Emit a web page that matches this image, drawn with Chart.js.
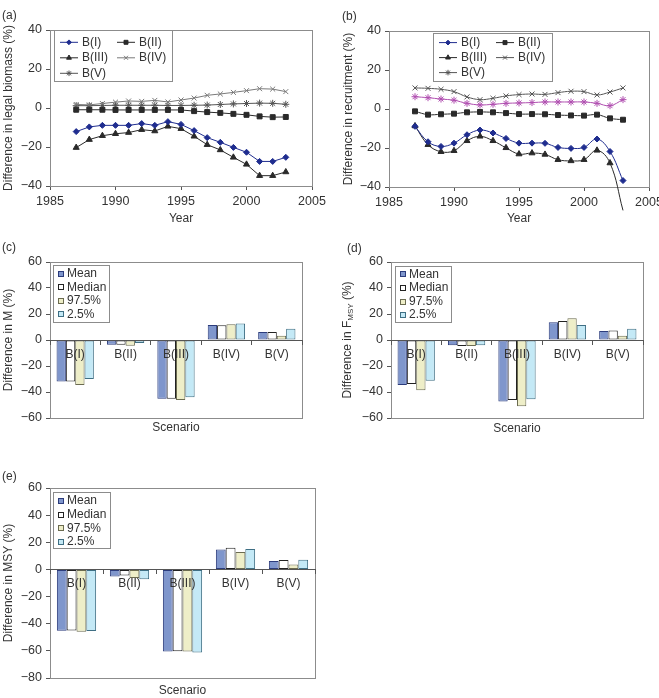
<!DOCTYPE html>
<html>
<head>
<meta charset="utf-8">
<script src="https://cdn.jsdelivr.net/npm/chart.js@4.4.1/dist/chart.umd.min.js"></script>
<style>
html, body { margin: 0; padding: 0; background: #fff; }
#fig { position: relative; width: 659px; height: 698px; overflow: hidden; font-family: "Liberation Sans", Arial, sans-serif; color: #333; }
#fig canvas { position: absolute; }
.tag { position: absolute; font-size: 12px; line-height: 12px; }
</style>
</head>
<body>
<div id="fig">
  <canvas id="chartA" width="330" height="230" style="left:0;top:0"></canvas>
  <canvas id="chartB" width="319" height="230" style="left:340px;top:0"></canvas>
  <canvas id="chartC" width="330" height="230" style="left:0;top:230px"></canvas>
  <canvas id="chartD" width="319" height="230" style="left:340px;top:230px"></canvas>
  <canvas id="chartE" width="330" height="238" style="left:0;top:460px"></canvas>
  <div class="tag" style="left:2px;top:9px">(a)</div>
  <div class="tag" style="left:342px;top:10px">(b)</div>
  <div class="tag" style="left:2px;top:241px">(c)</div>
  <div class="tag" style="left:347px;top:242px">(d)</div>
  <div class="tag" style="left:2px;top:470px">(e)</div>
</div>
<script>
// years for panels (a) and (b)
const years = [1987, 1988, 1989, 1990, 1991, 1992, 1993, 1994, 1995, 1996, 1997, 1998, 1999, 2000, 2001, 2002, 2003];

// (a) difference in legal biomass (%)
const biomassI   = [-12.1, -9.7, -8.9, -8.9, -8.9, -8.0, -8.9, -7.0, -8.4, -11.6, -15.2, -17.6, -20.2, -22.7, -27.4, -27.4, -25.3];
const biomassII  = [-0.9, -0.9, -0.9, -1.0, -1.0, -1.0, -1.0, -1.0, -1.0, -1.6, -2.1, -2.5, -3.0, -3.5, -4.3, -4.7, -4.6];
const biomassIII = [-20.3, -16.2, -14.2, -13.2, -12.6, -11.1, -11.8, -9.4, -10.6, -14.5, -18.8, -21.5, -25.3, -28.9, -34.7, -34.7, -32.8];
const biomassIV  = [1.8, 1.6, 2.3, 3.0, 3.6, 3.4, 3.9, 3.1, 4.1, 5.1, 6.5, 7.2, 8.0, 8.9, 9.9, 9.7, 8.4];
const biomassV   = [1.2, 1.2, 1.3, 1.4, 1.4, 1.4, 1.4, 1.3, 1.3, 1.4, 1.5, 1.8, 2.1, 2.3, 2.5, 2.4, 1.9];

// (b) difference in recruitment (%)
const recruitI   = [-8.9, -16.8, -19.2, -17.5, -13.2, -10.8, -12.3, -15.1, -17.5, -17.5, -17.6, -19.7, -20.2, -19.7, -15.4, -21.8, -36.7];
const recruitII  = [-1.2, -2.9, -2.7, -2.4, -1.7, -1.5, -1.7, -2.1, -2.6, -2.6, -2.7, -3.1, -3.3, -3.4, -2.9, -4.8, -5.5];
const recruitIII = [-8.7, -18.3, -21.9, -21.4, -16.3, -14.0, -16.3, -19.9, -23.1, -22.6, -23.3, -26.0, -26.6, -26.0, -21.2, -27.7, -52.0];
const recruitIV  = [10.8, 10.6, 10.1, 8.9, 6.2, 4.8, 5.5, 6.7, 7.4, 7.7, 7.5, 8.4, 9.1, 8.9, 7.2, 8.7, 10.8];
const recruitV   = [6.3, 5.8, 5.1, 4.5, 2.9, 2.1, 2.4, 2.9, 3.1, 3.3, 3.6, 3.6, 3.6, 3.6, 2.9, 1.7, 4.8];

// (c)-(e) bar panels
const scenarios = ['B(I)', 'B(II)', 'B(III)', 'B(IV)', 'B(V)'];
const statNames = ['Mean', 'Median', '97.5%', '2.5%'];

const mMean   = [-32.0, -3.6, -45.1, 11.5, 6.2];
const mMedian = [-32.0, -3.6, -45.1, 11.3, 6.2];
const m975    = [-34.6, -4.4, -46.2, 12.1, 3.3];
const m25     = [-30.0, -2.3, -44.1, 12.6, 8.7];

const fMean   = [-34.6, -4.1, -47.4, 13.6, 6.9];
const fMedian = [-33.8, -4.6, -46.2, 14.6, 7.4];
const f975    = [-38.7, -4.6, -51.0, 16.7, 3.3];
const f25     = [-31.3, -4.1, -45.6, 11.5, 8.7];

const msyMean   = [-45.2, -5.2, -60.5, 14.6, 6.2];
const msyMedian = [-45.0, -4.5, -60.3, 15.9, 6.9];
const msy975    = [-46.0, -6.4, -60.5, 12.9, 3.7];
const msy25     = [-45.4, -7.2, -61.3, 15.1, 7.2];

const FONT = '"Liberation Sans", Arial, sans-serif';
Chart.defaults.font.family = FONT;
Chart.defaults.font.size = 12;
Chart.defaults.color = '#333';

const barFill = ['#7f96cc', '#ffffff', '#eeeec8', '#c4e9f6'];
const barEdge = ['#2c3c7c', '#222222', '#6b6b50', '#3f6f84'];

const fmtTick = v => (v < 0 ? '\u2212' + Math.abs(v) : String(v));
const pts = vals => years.map((y, i) => ({ x: y, y: vals[i] }));

// grey box round the plot area
const frame = {
  id: 'frame',
  beforeDatasetsDraw(chart) {
    const a = chart.chartArea, ctx = chart.ctx;
    ctx.save();
    ctx.strokeStyle = '#8c8c8c';
    ctx.lineWidth = 1;
    ctx.strokeRect(Math.round(a.left) + 0.5, Math.round(a.top) + 0.5, Math.round(a.right - a.left), Math.round(a.bottom - a.top));
    ctx.restore();
  }
};

// boxed legend drawn inside the plot
function boxLegend(cfg) {
  return {
    id: 'boxLegend',
    afterDraw(chart) {
      const ctx = chart.ctx, a = chart.chartArea;
      const x0 = Math.round(a.left + cfg.dx), y0 = Math.round(a.top + cfg.dy);
      ctx.save();
      ctx.fillStyle = '#fff';
      ctx.fillRect(x0, y0, cfg.w, cfg.h);
      ctx.strokeStyle = '#8c8c8c';
      ctx.lineWidth = 1;
      ctx.strokeRect(x0 + 0.5, y0 + 0.5, cfg.w, cfg.h);
      ctx.textBaseline = 'middle';
      ctx.textAlign = 'left';
      chart.data.datasets.forEach((ds, i) => {
        const col = cfg.cols ? i % cfg.cols : 0;
        const row = cfg.cols ? Math.floor(i / cfg.cols) : i;
        const cx = x0 + col * (cfg.colW || 0);
        const cy = y0 + cfg.first + row * cfg.rowH;
        if (cfg.kind === 'line') {
          const c = ds.legendColor || ds.borderColor;
          const r = Array.isArray(ds.pointRadius) ? ds.pointRadius[0] : ds.pointRadius;
          ctx.strokeStyle = c;
          ctx.fillStyle = c;
          ctx.lineWidth = 1;
          ctx.beginPath();
          ctx.moveTo(cx + 6, cy);
          ctx.lineTo(cx + 24, cy);
          ctx.stroke();
          Chart.helpers.drawPoint(ctx, { pointStyle: ds.pointStyle, radius: r * 0.8, borderWidth: 1, rotation: 0 }, cx + 15, cy);
          ctx.fillStyle = '#333';
          ctx.font = '12px ' + FONT;
          ctx.fillText(ds.label, cx + 28, cy);
        } else {
          ctx.fillStyle = ds.backgroundColor;
          ctx.fillRect(cx + 5, Math.round(cy) - 3, 6, 6);
          ctx.strokeStyle = ds.borderColor;
          ctx.strokeRect(cx + 5.5, Math.round(cy) - 2.5, 5, 5);
          ctx.fillStyle = '#333';
          ctx.font = '12px ' + FONT;
          ctx.fillText(ds.label, cx + 14, cy);
        }
      });
      ctx.restore();
    }
  };
}

// y title with MSY subscript for panel (d)
const fmsyTitle = {
  id: 'fmsyTitle',
  afterDraw(chart) {
    const ctx = chart.ctx, a = chart.chartArea;
    const big = '12px ' + FONT, small = '8px ' + FONT;
    const parts = [['Difference in F', big, 0], ['MSY', small, 3], [' (%)', big, 0]];
    ctx.save();
    let total = 0;
    parts.forEach(p => { ctx.font = p[1]; p.push(ctx.measureText(p[0]).width); total += p[3]; });
    ctx.translate(7.5, (a.top + a.bottom) / 2);
    ctx.rotate(-Math.PI / 2);
    ctx.fillStyle = '#333';
    ctx.textBaseline = 'middle';
    ctx.textAlign = 'left';
    let x = -total / 2;
    parts.forEach(p => { ctx.font = p[1]; ctx.fillText(p[0], x, p[2]); x += p[3]; });
    ctx.restore();
  }
};

function lineSet(label, vals, color, style, r, extra) {
  return Object.assign({
    label: label,
    data: pts(vals),
    borderColor: color,
    backgroundColor: color,
    pointBackgroundColor: color,
    pointBorderColor: color,
    pointStyle: style,
    pointRadius: r,
    pointBorderWidth: 1,
    borderWidth: 1,
    tension: 0
  }, extra || {});
}

function lineChart(id, sets, cfg) {
  return new Chart(document.getElementById(id), {
    type: 'line',
    data: { datasets: sets },
    options: {
      responsive: false,
      animation: false,
      layout: { padding: { top: cfg.top, right: cfg.right, left: 0, bottom: 0 } },
      plugins: { legend: { display: false }, tooltip: { enabled: false } },
      scales: {
        x: {
          type: 'linear', min: 1985, max: 2005,
          ticks: { stepSize: 5, padding: 4, font: { size: 12.5 }, callback: v => String(v) },
          grid: { drawOnChartArea: false, tickLength: 4, color: '#555' },
          border: { color: '#555' },
          title: { display: true, text: 'Year', padding: { top: 0, bottom: 4 } },
          afterFit: s => { s.height = cfg.xH; s.paddingLeft = 0; s.paddingRight = 0; }
        },
        y: {
          min: -40, max: 40,
          ticks: { stepSize: 20, padding: 4, font: { size: 12.5 }, callback: fmtTick },
          grid: { drawOnChartArea: false, tickLength: 4, color: '#555' },
          border: { color: '#555' },
          title: { display: true, text: cfg.yTitle, padding: { top: 1, bottom: 0 } },
          afterFit: s => { s.width = cfg.yW; }
        }
      }
    },
    plugins: [frame, boxLegend(cfg.legend)]
  });
}

function barChart(id, series, cfg) {
  const sets = statNames.map((name, i) => ({
    label: name,
    data: series[i],
    backgroundColor: barFill[i],
    borderColor: barEdge[i],
    borderWidth: 1,
    borderSkipped: false,
    categoryPercentage: 0.74,
    barPercentage: 1
  }));
  const extra = [frame, boxLegend(cfg.legend)];
  if (cfg.customTitle) extra.push(cfg.customTitle);
  return new Chart(document.getElementById(id), {
    type: 'bar',
    data: { labels: scenarios, datasets: sets },
    options: {
      responsive: false,
      animation: false,
      layout: { padding: { top: cfg.top, right: cfg.right, left: 0, bottom: 0 } },
      plugins: { legend: { display: false }, tooltip: { enabled: false } },
      scales: {
        x: {
          position: { y: 0 },
          ticks: { padding: 3, font: { size: 12 }, z: 1 },
          grid: { drawOnChartArea: false, offset: true, tickLength: 4, color: '#555', z: 1 },
          border: { color: '#555', z: 1 }
        },
        x2: {
          type: 'category', position: 'bottom',
          ticks: { display: false },
          grid: { display: false },
          border: { display: false },
          title: { display: true, text: 'Scenario', padding: { top: 0, bottom: cfg.titlePad } },
          afterFit: s => { s.height = cfg.xH; s.paddingLeft = 0; s.paddingRight = 0; }
        },
        y: {
          min: cfg.yMin, max: cfg.yMax,
          ticks: { stepSize: 20, padding: 4, font: { size: 12.5 }, callback: fmtTick },
          grid: { drawOnChartArea: false, tickLength: 4, color: '#555' },
          border: { color: '#555' },
          title: { display: !cfg.customTitle, text: cfg.yTitle || '', padding: { top: 1, bottom: 0 } },
          afterFit: s => { s.width = cfg.yW; }
        }
      }
    },
    plugins: extra
  });
}

// (a)
lineChart('chartA', [
  lineSet('B(I)', biomassI, '#1f2d8f', 'rectRot', 3),
  lineSet('B(II)', biomassII, '#2a2a2a', 'rect', 3.5),
  lineSet('B(III)', biomassIII, '#2a2a2a', 'triangle', 3.5),
  lineSet('B(IV)', biomassIV, '#7a7a7a', 'crossRot', 3.5),
  lineSet('B(V)', biomassV, '#555555', 'star', 3.5)
], {
  top: 30, right: 18, yW: 50, xH: 44,
  yTitle: 'Difference in legal biomass (%)',
  legend: { kind: 'line', dx: 4, dy: 0, w: 118, h: 51, cols: 2, colW: 57, first: 12.3, rowH: 15.5 }
});

// (b)
const smooth = { tension: 0.4, capBezierPoints: false };
lineChart('chartB', [
  lineSet('B(I)', recruitI, '#1f2d8f', 'rectRot', 3, smooth),
  lineSet('B(II)', recruitII, '#2a2a2a', 'rect', 3.5, smooth),
  lineSet('B(III)', recruitIII, '#2a2a2a', 'triangle', 3.5,
    Object.assign({ clip: false, pointRadius: years.map((y, i) => (i === years.length - 1 ? 0 : 3.5)) }, smooth)),
  lineSet('B(IV)', recruitIV, '#555555', 'crossRot', 3.5, smooth),
  lineSet('B(V)', recruitV, '#b04fb0', 'star', 3.5, Object.assign({ legendColor: '#555555' }, smooth))
], {
  top: 31, right: 10, yW: 49, xH: 43,
  yTitle: 'Difference in recruitment (%)',
  legend: { kind: 'line', dx: 44, dy: 2, w: 119, h: 48, cols: 2, colW: 57, first: 9.6, rowH: 15 }
});

// (c)
barChart('chartC', [mMean, mMedian, m975, m25], {
  top: 32, right: 28, yW: 50, xH: 42, titlePad: 25, yMin: -60, yMax: 60,
  yTitle: 'Difference in M (%)',
  legend: { kind: 'bar', dx: 3, dy: 3, w: 56, h: 57, first: 9, rowH: 13.4 }
});

// (d)
barChart('chartD', [fMean, fMedian, f975, f25], {
  top: 32, right: 16, yW: 51, xH: 42, titlePad: 24, yMin: -60, yMax: 60,
  customTitle: fmsyTitle,
  legend: { kind: 'bar', dx: 4, dy: 4, w: 56, h: 56, first: 8.3, rowH: 13.6 }
});

// (e)
barChart('chartE', [msyMean, msyMedian, msy975, msy25], {
  top: 28, right: 15, yW: 50, xH: 20, titlePad: 0, yMin: -80, yMax: 60,
  yTitle: 'Difference in MSY (%)',
  legend: { kind: 'bar', dx: 3, dy: 4, w: 57, h: 56, first: 9, rowH: 13.7 }
});
</script>
</body>
</html>
